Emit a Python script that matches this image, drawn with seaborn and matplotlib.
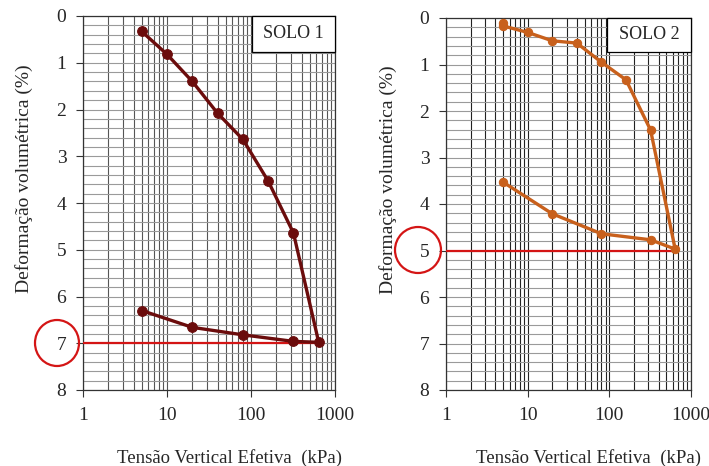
import numpy as np
import pandas as pd
import seaborn as sns
import matplotlib
matplotlib.use('Agg')
import matplotlib.pyplot as plt
import matplotlib.ticker as ticker
from matplotlib.patches import Ellipse, Rectangle

# SOLO 1: loading then unloading path
solo1_tensao = [5, 10, 20, 40, 80, 160, 320, 640, 320, 80, 20, 5]
solo1_deform = [0.33, 0.82, 1.40, 2.08, 2.64, 3.53, 4.64, 6.98, 6.96, 6.82, 6.66, 6.30]

# SOLO 2
solo2_tensao = [5, 5, 10, 20, 40, 80, 160, 320, 640, 320, 80, 20, 5]
solo2_deform = [0.10, 0.17, 0.31, 0.49, 0.54, 0.95, 1.33, 2.41, 4.97, 4.77, 4.64, 4.21, 3.53]

solo1_marca = 7
solo2_marca = 5

x_label = "Tensão Vertical Efetiva  (kPa)"
y_label = "Deformação volumétrica (%)"

sns.set_style('white')
plt.rcParams['font.family'] = ['Liberation Serif', 'DejaVu Serif']

fig = plt.figure(figsize=(7.09, 4.66), dpi=100)
ax1 = fig.add_axes([83 / 709, 76 / 466, 252 / 709, 374 / 466])
ax2 = fig.add_axes([446 / 709, 76 / 466, 245 / 709, 372 / 466])


def draw_panel(ax, tensao, deform, color, ms, nome, marca, x_end, box_x0, box_h, vgrid):
    df = pd.DataFrame({'t': tensao, 'd': deform})
    ax.set_xscale('log')
    ax.set_xlim(1, 1000)
    ax.set_ylim(8, 0)
    ax.xaxis.set_major_locator(ticker.FixedLocator([1, 10, 100, 1000]))
    ax.xaxis.set_minor_locator(ticker.LogLocator(base=10, subs=np.arange(2, 10)))
    ax.xaxis.set_major_formatter(ticker.FuncFormatter(lambda v, _: '{:g}'.format(v)))
    ax.xaxis.set_minor_formatter(ticker.NullFormatter())
    ax.yaxis.set_major_locator(ticker.MultipleLocator(1))
    ax.yaxis.set_minor_locator(ticker.MultipleLocator(0.2))
    ax.grid(True, which='both', axis='x', color=vgrid, lw=0.8)
    ax.grid(True, which='both', axis='y', color='#9a9a9a', lw=0.8)
    ax.set_axisbelow(True)
    ax.tick_params(axis='both', which='major', direction='out', length=5, width=0.8,
                   labelsize=14, color='#333333', pad=7, bottom=True, left=True)
    ax.tick_params(axis='both', which='minor', length=0)
    for s in ax.spines.values():
        s.set_color('#333333')
        s.set_linewidth(0.9)

    ax.plot([1, x_end], [marca, marca], color='#d41515', lw=1.6, zorder=3)
    sns.lineplot(data=df, x='t', y='d', sort=False, estimator=None, ax=ax,
                 color=color, lw=2.4, marker='o', markersize=ms,
                 markeredgecolor=color, zorder=4)
    ax.set_xlabel(x_label, fontsize=13.5)
    ax.set_ylabel(y_label, fontsize=14)
    ax.xaxis.set_label_coords(0.58, -0.158)
    ax.yaxis.set_label_coords(-0.198, 0.566)
    ax.add_patch(Rectangle((box_x0, 1 - box_h), 1 - box_x0, box_h, transform=ax.transAxes,
                           fc='white', ec='black', lw=0.9, zorder=5, clip_on=False))
    ax.text((box_x0 + 1) / 2, 1 - box_h / 2, nome, transform=ax.transAxes, ha='center',
            va='center', fontsize=13, zorder=6)


draw_panel(ax1, solo1_tensao, solo1_deform, '#6b0c0c', 7, 'SOLO 1', solo1_marca, 640,
           0.67, 0.096, '#555555')
draw_panel(ax2, solo2_tensao, solo2_deform, '#c8601c', 6, 'SOLO 2', solo2_marca, 660,
           0.657, 0.091, '#222222')

# red circles around the marked values
fig.patches.append(Ellipse((57 / 709, 1 - 343 / 466), 44 / 709, 46 / 466, transform=fig.transFigure,
                           fill=False, ec='#d41515', lw=1.6))
fig.patches.append(Ellipse((418 / 709, 1 - 250 / 466), 46 / 709, 46 / 466, transform=fig.transFigure,
                           fill=False, ec='#d41515', lw=1.6))

fig.savefig('out.png', dpi=100)
